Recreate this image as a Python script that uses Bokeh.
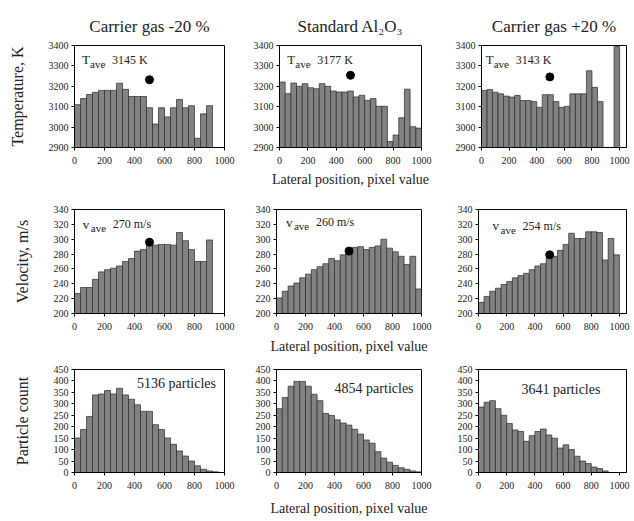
import math
from bokeh.plotting import figure
from bokeh.layouts import column, row
from bokeh.models import Label, Range1d, FixedTicker
from bokeh.embed import file_html
from bokeh.resources import INLINE

# ---------------- data ----------------
BIN = 40  # lateral bin width, pixel value
x_ticks = [0, 200, 400, 600, 800, 1000]

col_titles = ["Carrier gas -20 %", "Standard Al\u2082O\u2083", "Carrier gas +20 %"]
row_ylabels = ["Temperature, K", "Velocity, m/s", "Particle count"]
x_label = "Lateral position, pixel value"

temp_m20 = [3110, 3140, 3160, 3170, 3180, 3180, 3180, 3215, 3185, 3150, 3150, 3150,
            3095, 3015, 3095, 3050, 3095, 3135, 3095, 3105, 2945, 3065, 3105]
temp_std = [3221, 3164, 3216, 3200, 3213, 3193, 3188, 3213, 3200, 3177, 3172, 3172,
            3177, 3148, 3156, 3131, 3140, 3102, 3102, 2929, 2961, 3046, 3186, 3002, 2995]
temp_p20 = [3179, 3184, 3171, 3163, 3152, 3147, 3155, 3130, 3130, 3125, 3097, 3159,
            3159, 3125, 3097, 3102, 3163, 3163, 3163, 3276, 3195, 3125,
            float("nan"), float("nan"), 3395]

vel_m20 = [227, 235, 235, 246, 256, 259, 261, 264, 270, 274, 284, 286, 293, 292, 293,
           293, 292, 309, 298, 286, 270, 270, 299]
vel_std = [221, 230, 237, 241, 248, 253, 259, 263, 267, 274, 271, 279, 283, 289, 290,
           286, 289, 291, 300, 288, 283, 277, 266, 277, 233]
vel_p20 = [215, 223, 230, 234, 239, 243, 248, 251, 254, 259, 264, 267, 276, 277, 285,
           293, 308, 301, 301, 310, 310, 309, 272, 301, 279]

cnt_m20 = [151, 188, 245, 339, 343, 358, 343, 368, 339, 320, 296, 267, 267, 209, 188,
           151, 123, 94, 72, 50, 29, 14, 7, 3]
cnt_std = [279, 328, 377, 398, 398, 377, 342, 314, 258, 249, 230, 216, 207, 189, 168,
           142, 128, 91, 63, 45, 31, 21, 14, 7, 3]
cnt_p20 = [286, 307, 314, 279, 250, 214, 186, 179, 136, 161, 179, 190, 164, 150, 107,
           121, 100, 71, 50, 39, 24, 17, 7]

temp_ave = [3145, 3177, 3143]
vel_ave = [270, 260, 254]
particles = [5136, 4854, 3641]

temp_dot = [(500, 3232), (500, 3254), (495, 3246)]
vel_dot = [(500, 296), (500, 284), (505, 279)]

temp_ticks = [2900, 3000, 3100, 3200, 3300, 3400]
vel_ticks = [200, 220, 240, 260, 280, 300, 320, 340]
cnt_ticks = [0, 50, 100, 150, 200, 250, 300, 350, 400, 450]

# ---------------- style ----------------
FONT = "Liberation Serif"
TXT = "#222222"
BAR_FILL = "#828282"
BAR_LINE = "#2a2a2a"

col_w = [250, 202, 180]
col_bl = [74, 26, 26]
col_br = [26, 31, 6]
col_xend = [1000, 1000, 1050]

row_h = [190, 168, 162]
row_bt = [45, 19, 11]
row_bb = [43, 45, 48]
row_xl_standoff = [5, 6, 9]


def make_panel(r, c, vals, yr, yticks):
    p = figure(width=col_w[c], height=row_h[r],
               x_range=Range1d(0, col_xend[c]), y_range=Range1d(*yr),
               output_backend="svg", toolbar_location=None,
               min_border_left=col_bl[c], min_border_right=col_br[c],
               min_border_top=row_bt[r], min_border_bottom=row_bb[r])
    xs = [BIN * (i + 0.5) for i, v in enumerate(vals) if not math.isnan(v)]
    tops = [v for v in vals if not math.isnan(v)]
    p.vbar(x=xs, top=tops, bottom=yr[0], width=BIN,
           fill_color=BAR_FILL, line_color=BAR_LINE, line_width=0.7)
    p.grid.visible = False
    p.outline_line_color = "black"
    p.outline_line_alpha = 1.0
    p.outline_line_width = 1
    for ax in (p.xaxis[0], p.yaxis[0]):
        ax.minor_tick_line_color = None
        ax.major_tick_out = 3
        ax.major_tick_in = 0
        ax.major_label_text_font = FONT
        ax.major_label_text_font_size = "10px"
        ax.major_label_text_color = TXT
        ax.axis_line_color = "black"
        ax.axis_label_text_font = FONT
        ax.axis_label_text_font_style = "normal"
        ax.axis_label_text_color = TXT
    p.xaxis.major_label_standoff = 6
    p.yaxis.major_label_standoff = 3
    p.xaxis.axis_label_text_font_size = "14px"
    p.yaxis.axis_label_text_font_size = "16px"
    p.xaxis.ticker = FixedTicker(ticks=x_ticks)
    p.yaxis.ticker = FixedTicker(ticks=yticks)
    if c == 0:
        p.yaxis.axis_label = row_ylabels[r]
        p.yaxis.axis_label_standoff = 20
    if c == 1:
        p.xaxis.axis_label = x_label
        p.xaxis.axis_label_standoff = row_xl_standoff[r]
    if r == 0:
        p.title.text = col_titles[c]
        p.title.text_font = FONT
        p.title.text_font_size = "17px"
        p.title.text_font_style = "normal"
        p.title.align = "center"
        p.title.text_color = TXT
        p.title.standoff = 20
    return p


def ave_label(p, x, y, sym, txt):
    p.add_layout(Label(x=x, y=y, text=sym, text_font=FONT, text_font_size="13px",
                       text_baseline="middle", text_color=TXT))
    p.add_layout(Label(x=x, y=y, x_offset=8, y_offset=-4, text="ave", text_font=FONT,
                       text_font_size="11px", text_baseline="middle", text_color=TXT))
    p.add_layout(Label(x=x, y=y, x_offset=30, text=txt, text_font=FONT,
                       text_font_size="12px", text_baseline="middle", text_color=TXT))


temps = [temp_m20, temp_std, temp_p20]
trow = []
for c in range(3):
    p = make_panel(0, c, temps[c], (2900, 3400), temp_ticks)
    dx, dy = temp_dot[c]
    p.scatter([dx], [dy], size=8, color="black")
    ave_label(p, [50, 55, 30][c], 3330, "T", f"{temp_ave[c]} K")
    trow.append(p)

vels = [vel_m20, vel_std, vel_p20]
vrow = []
for c in range(3):
    p = make_panel(1, c, vels[c], (200, 340), vel_ticks)
    dx, dy = vel_dot[c]
    p.scatter([dx], [dy], size=8, color="black")
    ave_label(p, [55, 65, 100][c], [320, 323, 318][c], "v", f"{vel_ave[c]} m/s")
    vrow.append(p)

cnts = [cnt_m20, cnt_std, cnt_p20]
crow = []
for c in range(3):
    p = make_panel(2, c, cnts[c], (0, 450), cnt_ticks)
    p.add_layout(Label(x=[680, 673, 585][c], y=[389, 367, 363][c],
                       text=f"{particles[c]} particles", text_font=FONT,
                       text_font_size="14px", text_align="center",
                       text_baseline="middle", text_color=TXT))
    crow.append(p)

layout = column(row(*trow), row(*vrow), row(*crow))

open("out.html", "w").write(file_html(layout, INLINE))
